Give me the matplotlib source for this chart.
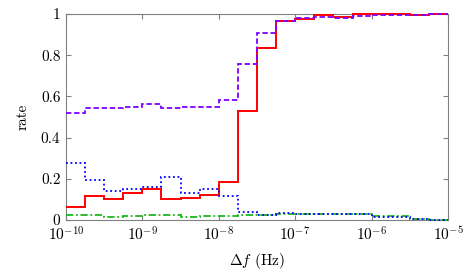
import numpy as np
import matplotlib.pyplot as plt

plt.rcParams['font.family'] = 'cmr10'
plt.rcParams['mathtext.fontset'] = 'cm'
plt.rcParams['axes.formatter.use_mathtext'] = True

# quarter-decade bins from 1e-10 to 1e-5 Hz
edges = np.logspace(-10, -5, 21)

red = [0.065, 0.117, 0.100, 0.130, 0.152, 0.104, 0.108, 0.123, 0.184, 0.529,
       0.833, 0.968, 0.977, 0.994, 0.984, 1.0, 1.0, 1.0, 0.997, 1.0]
purple = [0.521, 0.542, 0.542, 0.550, 0.561, 0.542, 0.547, 0.550, 0.583, 0.757,
          0.906, 0.968, 0.980, 0.984, 0.980, 0.990, 0.997, 0.997, 0.997, 0.998]
blue = [0.275, 0.194, 0.142, 0.149, 0.162, 0.210, 0.129, 0.149, 0.117, 0.040,
        0.024, 0.032, 0.029, 0.028, 0.028, 0.028, 0.016, 0.016, 0.005, 0.0]
green = [0.024, 0.024, 0.016, 0.019, 0.026, 0.024, 0.013, 0.019, 0.021, 0.024,
         0.022, 0.030, 0.028, 0.028, 0.028, 0.028, 0.018, 0.018, 0.006, 0.002]

fig = plt.figure(figsize=(4.72, 2.75), dpi=100)
ax = fig.add_axes([0.1398, 0.2, 0.8094, 0.749])

ax.stairs(red, edges, baseline=None, color='#ff0000', lw=1.4, clip_on=False, zorder=3)
ax.stairs(purple, edges, baseline=None, color='#8000ff', lw=1.3, ls=(0, (3, 1.5)), clip_on=False, zorder=4)
ax.stairs(green, edges, baseline=None, color='#1cb51c', lw=1.3, ls=(0, (4, 1.5, 1, 1.5)), clip_on=False, zorder=3)
ax.stairs(blue, edges, baseline=None, color='#0000ff', lw=1.3, ls=(0, (1, 1.5)), clip_on=False, zorder=4)

ax.set_xscale('log')
ax.set_xlim(1e-10, 1e-5)
ax.set_ylim(0, 1)
ax.set_xticks([1e-10, 1e-9, 1e-8, 1e-7, 1e-6, 1e-5])
ax.minorticks_off()
ax.set_yticks([0, 0.2, 0.4, 0.6, 0.8, 1])
ax.set_yticklabels(['0', '0.2', '0.4', '0.6', '0.8', '1'])

for s in ax.spines.values():
    s.set_color('#808080')
    s.set_linewidth(0.8)
ax.tick_params(direction='in', top=True, right=True, length=3.5, width=0.8,
               color='#808080', labelsize=11, pad=4)

ax.set_xlabel(r'$\Delta f$ (Hz)', fontsize=11, labelpad=5)
ax.set_ylabel('rate', fontsize=11, labelpad=8)

fig.savefig('out.png', dpi=100)
